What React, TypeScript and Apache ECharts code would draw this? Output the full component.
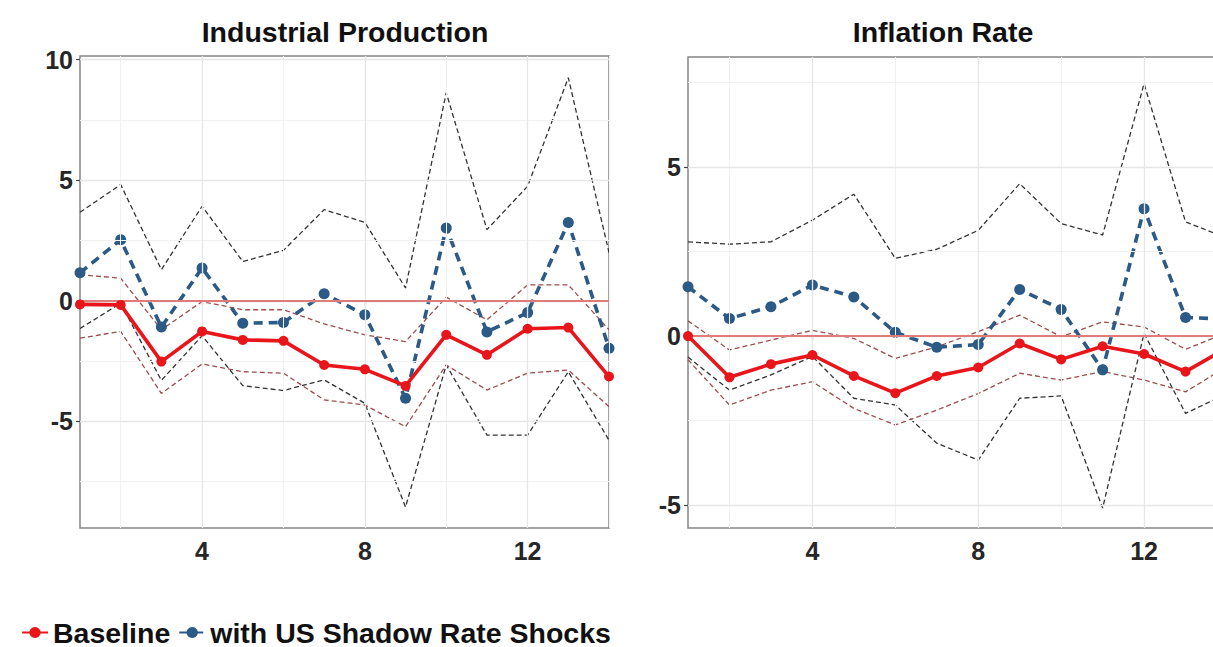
import React, { useEffect, useRef } from "react";
import * as echarts from "echarts";

// Horizons
const horizons = [1, 2, 3, 4, 5, 6, 7, 8, 9, 10, 11, 12, 13, 14];

// Industrial Production
const ipBaseline = [-0.15, -0.17, -2.52, -1.27, -1.62, -1.66, -2.66, -2.84, -3.53, -1.41, -2.24, -1.16, -1.11, -3.14];
const ipBaseUpper = [1.08, 0.94, -1.2, -0.03, -0.37, -0.37, -0.96, -1.41, -1.69, 0.15, -0.79, 0.66, 0.66, -1.2];
const ipBaseLower = [-1.55, -1.27, -3.84, -2.62, -2.94, -3.0, -4.11, -4.32, -5.22, -2.66, -3.7, -3.0, -2.87, -4.39];
const ipShock = [1.16, 2.53, -1.09, 1.36, -0.93, -0.9, 0.29, -0.58, -4.04, 3.02, -1.29, -0.49, 3.25, -1.97];
const ipShockUpper = [3.67, 4.82, 1.29, 3.92, 1.63, 2.09, 3.78, 3.25, 0.53, 8.63, 2.95, 4.75, 9.25, 2.0];
const ipShockLower = [-1.15, -0.1, -3.3, -1.45, -3.52, -3.72, -3.28, -4.25, -8.55, -2.66, -5.57, -5.57, -2.94, -5.78];

// Inflation Rate
const infBaseline = [0.0, -1.22, -0.83, -0.56, -1.18, -1.69, -1.18, -0.93, -0.22, -0.69, -0.3, -0.53, -1.05, -0.35];
const infBaseUpper = [0.45, -0.41, -0.12, 0.17, -0.07, -0.66, -0.32, 0.13, 0.62, -0.02, 0.42, 0.27, -0.39, 0.1];
const infBaseLower = [-0.7, -2.04, -1.6, -1.35, -2.14, -2.63, -2.19, -1.7, -1.1, -1.3, -1.05, -1.3, -1.65, -0.9];
const infShock = [1.46, 0.52, 0.87, 1.51, 1.16, 0.11, -0.33, -0.25, 1.38, 0.79, -1.0, 3.77, 0.55, 0.5];
const infShockUpper = [2.79, 2.72, 2.79, 3.43, 4.2, 2.3, 2.57, 3.13, 4.51, 3.33, 2.99, 7.47, 3.38, 2.9];
const infShockLower = [-0.62, -1.6, -1.15, -0.6, -1.84, -2.04, -3.17, -3.67, -1.84, -1.77, -5.09, 0.08, -2.29, -1.7];

// Ticks
const xTicks = [4, 8, 12];
const xMinor = [2, 6, 10, 14];
const ipYTicks = [-5, 0, 5, 10];
const ipYMinor = [-7.5, -2.5, 2.5, 7.5];
const infYTicks = [-5, 0, 5];
const infYMinor = [-2.5, 2.5, 7.5];

const panelTitles = ["Industrial Production", "Inflation Rate"];
const seriesNames = ["Baseline", "with US Shadow Rate Shocks"];

const FONT = "'Liberation Sans', Arial, Helvetica, sans-serif";
const RED = "#E8151B";
const BLUE = "#2C5A86";
const ZERO = "#E07B7B";
const BAND_BLACK = "#333333";
const BAND_RED = "#9a4e4e";
const GRID_MAJOR = "#e6e6e6";
const GRID_MINOR = "#f1f1f1";

const pairs = (arr: number[]) => horizons.map((h, i) => [h, arr[i]]);

function gridSeries(idx: number, yTicks: number[], yMinor: number[]) {
  const data: any[] = [];
  xMinor.forEach((v) => data.push({ xAxis: v, lineStyle: { color: GRID_MINOR, width: 1, type: "solid" } }));
  yMinor.forEach((v) => data.push({ yAxis: v, lineStyle: { color: GRID_MINOR, width: 1, type: "solid" } }));
  xTicks.forEach((v) => data.push({ xAxis: v, lineStyle: { color: GRID_MAJOR, width: 1.3, type: "solid" } }));
  yTicks.forEach((v) => data.push({ yAxis: v, lineStyle: { color: GRID_MAJOR, width: 1.3, type: "solid" } }));
  data.push({ yAxis: 0, lineStyle: { color: ZERO, width: 2, type: "solid" } });
  return {
    type: "line",
    xAxisIndex: idx,
    yAxisIndex: idx,
    data: [],
    silent: true,
    z: 1,
    markLine: {
      silent: true,
      symbol: ["none", "none"],
      label: { show: false },
      animation: false,
      data,
    },
  };
}

function bandSeries(idx: number, arr: number[], color: string) {
  return {
    type: "line",
    xAxisIndex: idx,
    yAxisIndex: idx,
    data: pairs(arr),
    showSymbol: false,
    symbol: "none",
    silent: true,
    z: 2,
    lineStyle: { color, width: 1.3, type: [5, 3] },
  };
}

function panelSeries(idx: number, base: number[], bu: number[], bl: number[], sh: number[], su: number[], sl: number[]) {
  return [
    gridSeries(idx, idx === 0 ? ipYTicks : infYTicks, idx === 0 ? ipYMinor : infYMinor),
    bandSeries(idx, su, BAND_BLACK),
    bandSeries(idx, sl, BAND_BLACK),
    bandSeries(idx, bu, BAND_RED),
    bandSeries(idx, bl, BAND_RED),
    {
      name: seriesNames[1],
      type: "line",
      xAxisIndex: idx,
      yAxisIndex: idx,
      data: pairs(sh),
      symbol: "circle",
      symbolSize: 11,
      z: 4,
      itemStyle: { color: BLUE },
      lineStyle: { color: BLUE, width: 3.6, type: [9, 6] },
    },
    {
      name: seriesNames[0],
      type: "line",
      xAxisIndex: idx,
      yAxisIndex: idx,
      data: pairs(base),
      symbol: "circle",
      symbolSize: 10,
      z: 5,
      itemStyle: { color: RED },
      lineStyle: { color: RED, width: 3.6, type: "solid" },
    },
  ];
}

function xAxis(idx: number) {
  return {
    type: "value",
    gridIndex: idx,
    min: 1,
    max: 14,
    axisLine: { show: false },
    splitLine: { show: false },
    axisTick: { show: true, customValues: xTicks, length: 4, lineStyle: { color: "#444", width: 1.2 } },
    axisLabel: {
      customValues: xTicks,
      margin: 10,
      fontSize: 25,
      fontWeight: "bold",
      fontFamily: FONT,
      color: "#262626",
    },
  };
}

function yAxis(idx: number, min: number, max: number, ticks: number[]) {
  return {
    type: "value",
    gridIndex: idx,
    min,
    max,
    axisLine: { show: false },
    splitLine: { show: false },
    axisTick: { show: true, customValues: ticks, length: 4, lineStyle: { color: "#444", width: 1.2 } },
    axisLabel: {
      customValues: ticks,
      margin: 7,
      fontSize: 25,
      fontWeight: "bold",
      fontFamily: FONT,
      color: "#262626",
    },
  };
}

export default function App() {
  const ref = useRef<HTMLDivElement>(null);
  useEffect(() => {
    document.body.style.margin = "0";
    document.body.style.overflow = "hidden";
    document.documentElement.style.overflow = "hidden";
    if (!ref.current) return;
    const chart = echarts.init(ref.current, undefined, { renderer: "svg" });
    const option: any = {
      animation: false,
      backgroundColor: "#ffffff",
      grid: [
        { left: 80, top: 56, width: 529, height: 472, show: true, borderColor: "#858585", borderWidth: 1.5, backgroundColor: "#fff" },
        { left: 688, top: 57, width: 539, height: 471, show: true, borderColor: "#858585", borderWidth: 1.5, backgroundColor: "#fff" },
      ],
      xAxis: [xAxis(0), xAxis(1)],
      yAxis: [yAxis(0, -9.42, 10.15, ipYTicks), yAxis(1, -5.68, 8.26, infYTicks)],
      legend: {
        left: 16,
        top: 613,
        itemWidth: 26,
        itemHeight: 14,
        itemGap: 8,
        data: seriesNames,
        textStyle: { fontSize: 28.5, lineHeight: 28, fontWeight: "bold", fontFamily: FONT, color: "#111" },
      },
      graphic: [
        { type: "text", x: 345, y: 32, style: { text: panelTitles[0], align: "center", verticalAlign: "middle", font: `bold 28.5px ${FONT}`, fill: "#111" } },
        { type: "text", x: 943, y: 32, style: { text: panelTitles[1], align: "center", verticalAlign: "middle", font: `bold 28.5px ${FONT}`, fill: "#111" } },
      ],
      series: [
        ...panelSeries(0, ipBaseline, ipBaseUpper, ipBaseLower, ipShock, ipShockUpper, ipShockLower),
        ...panelSeries(1, infBaseline, infBaseUpper, infBaseLower, infShock, infShockUpper, infShockLower),
      ],
    };
    chart.setOption(option);
    return () => chart.dispose();
  }, []);
  return <div ref={ref} style={{ width: 1232, height: 647 }} />;
}
